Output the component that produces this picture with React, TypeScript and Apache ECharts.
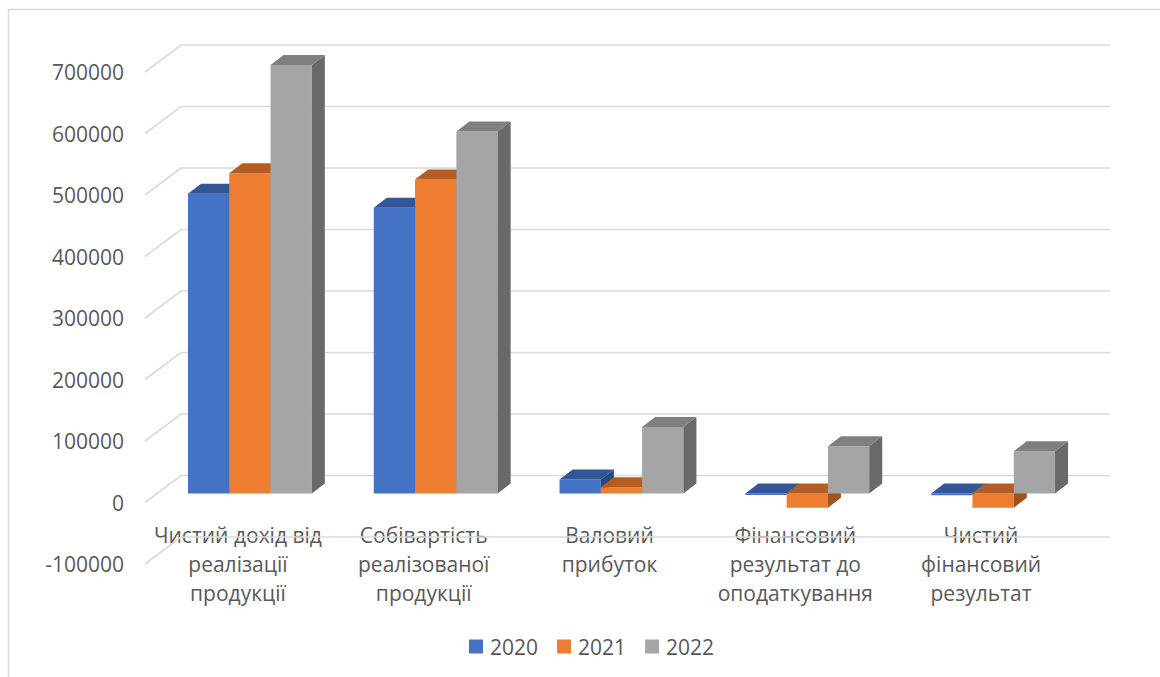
import React, { useEffect, useRef } from "react";
import * as echarts from "echarts";

const categories = [
  "Чистий дохід від\nреалізації\nпродукції",
  "Собівартість\nреалізованої\nпродукції",
  "Валовий\nприбуток",
  "Фінансовий\nрезультат до\nоподаткування",
  "Чистий\nфінансовий\nрезультат",
];
const years = ["2020", "2021", "2022"];
const values2020 = [487300, 464500, 22800, -2500, -3000];
const values2021 = [520800, 510600, 10200, -23300, -23300];
const values2022 = [696700, 588500, 108200, 76900, 68800];
const yTicks = [-100000, 0, 100000, 200000, 300000, 400000, 500000, 600000, 700000];

const frontColors = ["#4472C4", "#ED7D31", "#A5A5A5"];
const topColors = ["#335697", "#B45C21", "#7F7F7F"];
const sideColors = ["#2A4882", "#A0521C", "#696969"];

// 3D projection offsets (px)
const WALL_DX = 36;
const WALL_DY = -27;
const BAR_FRONT_DX = 12;
const BAR_FRONT_DY = -9;
const BAR_DEPTH_DX = 13;
const BAR_DEPTH_DY = -10;
const GAP_RATIO = 1.5;

const FONT = "'Open Sans', 'Noto Sans', sans-serif";
const TEXT_COLOR = "#595959";

export default function App() {
  const ref = useRef<HTMLDivElement>(null);

  useEffect(() => {
    if (!ref.current) return;
    const chart = echarts.init(ref.current, null, { renderer: "svg" });

    const gridSeries = {
      type: "custom",
      name: "grid",
      z: 1,
      silent: true,
      data: yTicks.map((v) => [0, v]),
      encode: { x: 0, y: 1 },
      renderItem: (params: any, api: any) => {
        const cs = params.coordSys;
        const y = api.coord([0, api.value(1)])[1];
        const x0 = cs.x;
        return {
          type: "polyline",
          shape: {
            points: [
              [x0, y],
              [x0 + WALL_DX, y + WALL_DY],
              [x0 + cs.width + WALL_DX, y + WALL_DY],
            ],
          },
          style: { stroke: "#D9D9D9", lineWidth: 1.6, fill: "none" },
        };
      },
    };

    const makeBarSeries = (name: string, vals: number[], k: number) => ({
      type: "custom",
      name,
      z: 2,
      itemStyle: { color: frontColors[k] },
      data: vals.map((v, i) => [i, v]),
      encode: { x: 0, y: 1 },
      renderItem: (params: any, api: any) => {
        const i = api.value(0);
        const v = api.value(1);
        const band = api.size([1, 0])[0];
        const w = band / (3 + GAP_RATIO);
        const cx = api.coord([i, 0])[0];
        const x0 = cx - 1.5 * w + k * w + BAR_FRONT_DX;
        const yTop = api.coord([i, Math.max(v, 0)])[1] + BAR_FRONT_DY;
        const yBot = api.coord([i, Math.min(v, 0)])[1] + BAR_FRONT_DY;
        const dx = BAR_DEPTH_DX;
        const dy = BAR_DEPTH_DY;
        return {
          type: "group",
          children: [
            {
              type: "rect",
              shape: { x: x0, y: yTop, width: w, height: yBot - yTop },
              style: { fill: frontColors[k] },
            },
            {
              type: "polygon",
              shape: {
                points: [
                  [x0, yTop],
                  [x0 + w, yTop],
                  [x0 + w + dx, yTop + dy],
                  [x0 + dx, yTop + dy],
                ],
              },
              style: { fill: topColors[k] },
            },
            {
              type: "polygon",
              shape: {
                points: [
                  [x0 + w, yTop],
                  [x0 + w + dx, yTop + dy],
                  [x0 + w + dx, yBot + dy],
                  [x0 + w, yBot],
                ],
              },
              style: { fill: sideColors[k] },
            },
          ],
        };
      },
    });

    const option: any = {
      animation: false,
      backgroundColor: "#FFFFFF",
      color: frontColors,
      textStyle: { fontFamily: FONT },
      graphic: [
        {
          type: "rect",
          shape: { x: 8.5, y: 9.5, width: 1200, height: 700 },
          style: { fill: "none", stroke: "#D9D9D9", lineWidth: 1.5 },
          silent: true,
          z: 0,
        },
      ],
      grid: { left: 145, top: 72, width: 929, height: 492 },
      xAxis: {
        type: "category",
        data: categories,
        position: "bottom",
        offset: -61.5,
        axisLine: { show: false, onZero: false },
        axisTick: { show: false },
        splitLine: { show: false },
        axisLabel: {
          interval: 0,
          margin: 18,
          fontSize: 21,
          lineHeight: 29,
          color: TEXT_COLOR,
          fontFamily: FONT,
        },
      },
      yAxis: {
        type: "value",
        min: -100000,
        max: 700000,
        interval: 100000,
        axisLine: { show: false },
        axisTick: { show: false },
        splitLine: { show: false },
        axisLabel: {
          margin: 21,
          fontSize: 21,
          color: TEXT_COLOR,
          fontFamily: FONT,
          padding: [5, 0, 0, 0],
          formatter: (v: number) => String(v),
        },
      },
      legend: {
        data: years,
        left: 464,
        top: 631,
        icon: "rect",
        itemWidth: 14,
        itemHeight: 14,
        itemGap: 19,
        textStyle: { fontSize: 21, color: TEXT_COLOR, fontFamily: FONT, padding: [0, 0, 0, 2] },
      },
      series: [
        gridSeries,
        makeBarSeries(years[0], values2020, 0),
        makeBarSeries(years[1], values2021, 1),
        makeBarSeries(years[2], values2022, 2),
      ],
    };

    chart.setOption(option);
    return () => {
      chart.dispose();
    };
  }, []);

  return (
    <div
      ref={ref}
      style={{ position: "fixed", left: 0, top: 0, width: 1160, height: 677 }}
    />
  );
}
